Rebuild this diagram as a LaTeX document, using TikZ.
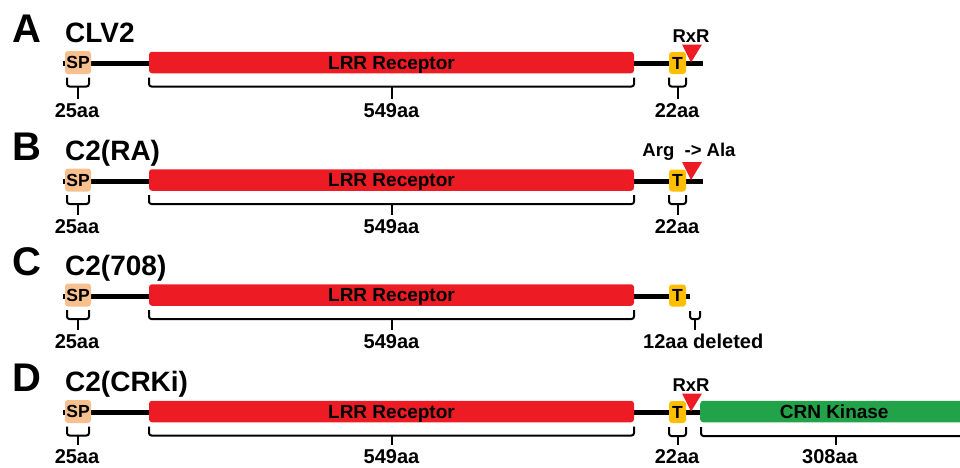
\documentclass[tikz,border=0pt]{standalone}
\usepackage{fontspec}
\setmainfont{Liberation Sans}
\definecolor{lrrred}{RGB}{237,28,36}
\definecolor{crngreen}{RGB}{34,163,74}
\definecolor{spcol}{RGB}{248,192,142}
\definecolor{tcol}{RGB}{255,190,0}
\tikzset{
  x=1pt, y=-1pt,
  letterst/.style={anchor=base west, inner sep=0pt, font=\fontsize{40}{40}\selectfont\bfseries},
  titlest/.style={anchor=base west, inner sep=0pt, font=\fontsize{28}{28}\selectfont\bfseries},
  aalabel/.style={anchor=base, inner sep=0pt, font=\fontsize{20}{20}\selectfont\bfseries},
  sitelabel/.style={anchor=base, inner sep=0pt, font=\fontsize{18.5}{18.5}\selectfont\bfseries},
  domline/.style={line width=5pt},
  bracestyle/.style={line width=2pt, rounded corners=2.5pt},
  redbox/.style={fill=lrrred, rounded corners=3pt, minimum width=485pt, minimum height=21.5pt,
    inner sep=0pt, text height=13pt, text depth=0pt, font=\fontsize{19}{19}\selectfont\bfseries},
  greenbox/.style={fill=crngreen, rounded corners=3pt, minimum width=300pt, minimum height=21.5pt,
    inner sep=0pt, text height=13pt, text depth=0pt, font=\fontsize{19}{19}\selectfont\bfseries},
  spbox/.style={fill=spcol, rounded corners=3pt, minimum width=26pt, minimum height=23pt,
    inner sep=0pt, text height=12.5pt, text depth=0pt, font=\fontsize{17.5}{17.5}\selectfont\bfseries},
  tbox/.style={fill=tcol, rounded corners=3pt, minimum width=17pt, minimum height=22pt,
    inner sep=0pt, text height=12.5pt, text depth=0pt, font=\fontsize{17.5}{17.5}\selectfont\bfseries},
  cleave/.style={fill=lrrred},
}
% brace: #1 x1, #2 x2, #3 top y, #4 bottom y, #5 stem end y
\newcommand\aabrace[5]{%
  \draw[bracestyle] (#1,#3) -- (#1,#4) -- (#2,#4) -- (#2,#3);
  \draw[bracestyle] ({(#1+#2)/2},#4) -- ({(#1+#2)/2},#5);
}
% row: #1 prefix, #2 letter, #3 title, #4 line y, #5 line end x, #6 label baseline y
\newcommand\protrow[6]{%
  \node[letterst] (#1letter) at (12,#4-21) {#2};
  \node[titlest] (#1title) at (65,#4-21) {#3};
  \coordinate (#1start) at (63,#4);
  \coordinate (#1end) at (#5,#4);
  \draw[domline] (#1start) -- (#1end);
  \node[spbox] (#1sp) at (78,#4-1) {SP};
  \node[redbox] (#1lrr) at (391.5,#4-1) {LRR Receptor};
  \node[tbox] (#1t) at (677.5,#4-0.5) {T};
  \aabrace{67}{89}{#4+14}{#4+23}{#6-18}
  \node[aalabel] (#1spaa) at (77,#6) {25aa};
  \aabrace{149}{634}{#4+14}{#4+23}{#6-18}
  \node[aalabel] (#1lrraa) at (391.5,#6) {549aa};
}
\newcommand\cleavesite[2]{% #1 prefix, #2 line y
  \coordinate (#1cut) at (691,#2-1);
  \fill[cleave] (682,#2-19) -- (702,#2-19) -- (#1cut) -- cycle;
}
\begin{document}
\begin{tikzpicture}
\useasboundingbox (0,0) rectangle (960,467);
\clip (0,0) rectangle (960,467);

% Row A
\protrow{a}{A}{CLV2}{63.5}{703}{117}
\cleavesite{a}{63.5}
\node[sitelabel] (arxr) at (691,42) {RxR};
\aabrace{669}{686}{77.5}{86.5}{99}
\node[aalabel] (ataa) at (677,117) {22aa};

% Row B
\protrow{b}{B}{C2(RA)}{181}{703}{233}
\cleavesite{b}{181}
\node[sitelabel] (barg) at (689,156) {Arg\ \ -> Ala};
\aabrace{669}{686}{195}{204}{215}
\node[aalabel] (btaa) at (677,233) {22aa};

% Row C
\protrow{c}{C}{C2(708)}{296}{690}{348}
\aabrace{690}{700}{311}{319}{330}
\node[aalabel, anchor=base west] (cdel) at (643,348) {12aa deleted};

% Row D
\protrow{d}{D}{C2(CRKi)}{412.5}{702}{463}
\cleavesite{d}{412.5}
\node[sitelabel] (drxr) at (691,391) {RxR};
\node[greenbox, anchor=west] (dcrn) at (700,411.5) {\hspace*{-32pt}CRN Kinase};
\aabrace{669}{686}{427}{436}{445}
\node[aalabel] (dtaa) at (677,463) {22aa};
\aabrace{701}{971}{427}{436}{445}
\node[aalabel] (dcrnaa) at (830,463) {308aa};
\end{tikzpicture}
\end{document}
